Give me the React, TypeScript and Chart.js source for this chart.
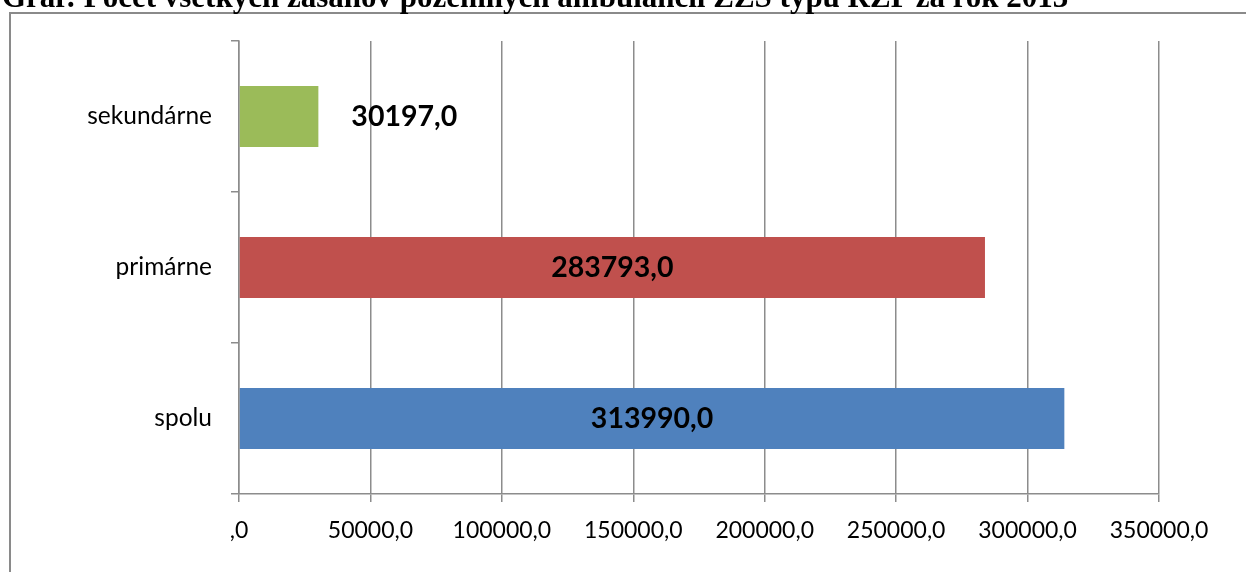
import React, { useEffect, useRef } from "react";
import { Chart, registerables } from "chart.js";

Chart.register(...registerables);

const titleText = "Graf: Počet všetkých zásahov pozemných ambulancií ZZS typu RZP za rok 2013";
const categories = ["sekundárne", "primárne", "spolu"];
const values = [30197.0, 283793.0, 313990.0];
const barColors = ["#9BBB59", "#C0504D", "#4F81BD"];
const xTickLabels = [",0", "50000,0", "100000,0", "150000,0", "200000,0", "250000,0", "300000,0", "350000,0"];
const xMin = 0;
const xMax = 350000;
const xStep = 50000;

const fmt = (v: number) => v.toFixed(1).replace(".", ",");

const framePlugin = {
  id: "frame",
  beforeDraw(chart: any) {
    const ctx = chart.ctx;
    ctx.save();
    ctx.strokeStyle = "#8a8a8a";
    ctx.lineWidth = 2;
    ctx.beginPath();
    ctx.moveTo(10, chart.height + 5);
    ctx.lineTo(10, 13);
    ctx.lineTo(chart.width + 5, 13);
    ctx.stroke();
    ctx.restore();
  },
};

const labelPlugin = {
  id: "barLabels",
  afterDatasetsDraw(chart: any) {
    const ctx = chart.ctx;
    const meta = chart.getDatasetMeta(0);
    ctx.save();
    ctx.font = "bold 28.5px Lato";
    ctx.fillStyle = "#000";
    ctx.textBaseline = "middle";
    meta.data.forEach((el: any, i: number) => {
      const text = fmt(values[i]);
      const w = ctx.measureText(text).width;
      const len = Math.abs(el.x - el.base);
      if (w + 20 < len) {
        ctx.textAlign = "center";
        ctx.fillText(text, (el.x + el.base) / 2, el.y);
      } else {
        ctx.textAlign = "left";
        ctx.fillText(text, el.x + 33, el.y);
      }
    });
    ctx.restore();
  },
};

export default function App() {
  const ref = useRef<HTMLCanvasElement>(null);
  useEffect(() => {
    if (!ref.current) return;
    const gray = "#8c8c8c";
    const chart = new Chart(ref.current, {
      type: "bar",
      data: {
        labels: categories,
        datasets: [
          {
            data: values,
            backgroundColor: barColors,
            borderWidth: 0,
            categoryPercentage: 1,
            barPercentage: 0.404,
          },
        ],
      },
      options: {
        indexAxis: "y",
        animation: false,
        responsive: false,
        maintainAspectRatio: false,
        layout: { padding: { left: 0, right: 87, top: 41, bottom: 0 } },
        plugins: { legend: { display: false }, tooltip: { enabled: false }, title: { display: false } },
        scales: {
          x: {
            min: xMin,
            max: xMax,
            afterFit: (s: any) => {
              s.height = 78;
            },
            ticks: {
              stepSize: xStep,
              color: "#000",
              font: { family: "Lato", size: 23 },
              padding: 15,
              callback: (_v: any, i: number) => xTickLabels[i],
            },
            grid: { color: gray, lineWidth: 1.5, drawTicks: true, tickLength: 8, tickColor: gray },
            border: { display: true, color: gray, width: 1.5 },
          },
          y: {
            afterFit: (s: any) => {
              s.width = 239;
            },
            ticks: {
              color: "#000",
              font: { family: "Lato", size: 24.5 },
              padding: 19,
            },
            grid: {
              offset: true,
              drawOnChartArea: false,
              drawTicks: true,
              tickLength: 8,
              lineWidth: 1.5,
              color: gray,
              tickColor: gray,
            },
            border: { display: true, color: gray, width: 1.5 },
          },
        },
      },
      plugins: [framePlugin, labelPlugin],
    });
    return () => chart.destroy();
  }, []);

  return (
    <div style={{ position: "absolute", left: 0, top: 0, width: 1246, height: 572, overflow: "hidden", background: "#fff" }}>
      <canvas ref={ref} width={1246} height={572} style={{ position: "absolute", left: 0, top: 0 }} />
      <div
        style={{
          position: "absolute",
          left: 2,
          top: -19,
          font: "bold 31px 'Liberation Serif'",
          lineHeight: "31px",
          whiteSpace: "nowrap",
          color: "#000",
        }}
      >
        {titleText}
      </div>
    </div>
  );
}
